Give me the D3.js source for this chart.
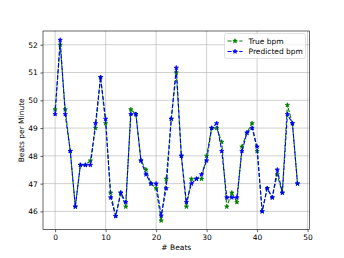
<!DOCTYPE html>
<html>
<head>
<meta charset="utf-8">
<script src="https://cdn.jsdelivr.net/npm/d3@7"></script>
<style>
  body { margin: 0; background: #fff; }
  text { font-family: "DejaVu Sans", sans-serif; fill: #000; }
</style>
</head>
<body>
<script>
var WIDTH = 344,
    HEIGHT = 258;

// values
var beats = d3.range(49);
var trueBpm = [49.67, 52.0, 49.67, 48.17, 46.17, 47.67, 47.67, 47.83, 49.0, 50.83,
               49.17, 46.67, 45.83, 46.67, 46.17, 49.67, 49.5, 47.83, 47.5, 47.0,
               46.83, 45.67, 47.17, 49.33, 51.0, 48.0, 46.17, 47.17, 47.17, 47.17,
               48.0, 49.0, 49.0, 48.5, 46.17, 46.67, 46.33, 48.33, 48.83, 49.17,
               48.17, 46.0, 46.83, 46.5, 47.33, 46.67, 49.83, 49.17, 47.0];
var predBpm = [49.5, 52.17, 49.5, 48.17, 46.17, 47.67, 47.67, 47.67, 49.17, 50.83,
               49.33, 46.5, 45.83, 46.67, 46.33, 49.5, 49.5, 47.83, 47.33, 47.0,
               47.0, 45.85, 46.83, 49.33, 51.17, 48.0, 46.33, 47.0, 47.17, 47.33,
               47.83, 49.0, 49.17, 48.17, 46.5, 46.5, 46.5, 48.17, 48.83, 49.0,
               48.33, 46.0, 46.83, 46.5, 47.5, 46.67, 49.5, 49.17, 47.0];
var xTicks = [0, 10, 20, 30, 40, 50],
    yTicks = [46, 47, 48, 49, 50, 51, 52];
var seriesNames = ["True bpm", "Predicted bpm"],
    seriesColors = ["#008000", "#0000ff"];

var margin = {left: 43, right: 34.4, top: 31, bottom: 28.4};
var x0 = margin.left, x1 = WIDTH - margin.right,
    y0 = margin.top, y1 = HEIGHT - margin.bottom;

// matplotlib style 5% margins
var yLo = d3.min(trueBpm.concat(predBpm)), yHi = d3.max(trueBpm.concat(predBpm));
var yPad = (yHi - yLo) * 0.05;
var x = d3.scaleLinear().domain([-2.4, 50.4]).range([x0, x1]);
var y = d3.scaleLinear().domain([yLo - yPad, yHi + yPad]).range([y1, y0]);

var svg = d3.select("body").append("svg")
    .attr("width", WIDTH)
    .attr("height", HEIGHT);

// grid
svg.append("g").selectAll("line").data(xTicks).enter().append("line")
  .attr("x1", function(d) { return x(d); })
  .attr("x2", function(d) { return x(d); })
  .attr("y1", y0).attr("y2", y1)
  .attr("stroke", "#b0b0b0").attr("stroke-width", 0.6);
svg.append("g").selectAll("line").data(yTicks).enter().append("line")
  .attr("y1", function(d) { return y(d); })
  .attr("y2", function(d) { return y(d); })
  .attr("x1", x0).attr("x2", x1)
  .attr("stroke", "#b0b0b0").attr("stroke-width", 0.6);

// axes
var xAxis = svg.append("g")
    .attr("transform", "translate(0," + y1 + ")")
    .call(d3.axisBottom(x).tickValues(xTicks).tickSize(2.6).tickPadding(2.6).tickSizeOuter(0));
var yAxis = svg.append("g")
    .attr("transform", "translate(" + x0 + ",0)")
    .call(d3.axisLeft(y).tickValues(yTicks).tickSize(2.6).tickPadding(2.6).tickSizeOuter(0));
[xAxis, yAxis].forEach(function(a) {
  a.select(".domain").remove();
  a.selectAll("line").attr("stroke-width", 0.6);
  a.selectAll("text").style("font-size", "7.5px").style("font-family", "DejaVu Sans");
});

// frame
svg.append("rect")
  .attr("x", x0).attr("y", y0)
  .attr("width", x1 - x0).attr("height", y1 - y0)
  .attr("fill", "none").attr("stroke", "#000").attr("stroke-width", 0.6);

// labels
svg.append("text")
  .attr("x", (x0 + x1) / 2).attr("y", 250)
  .attr("text-anchor", "middle")
  .style("font-size", "7.5px")
  .text("# Beats");
svg.append("text")
  .attr("transform", "translate(23.5," + ((y0 + y1) / 2) + ") rotate(-90)")
  .attr("text-anchor", "middle")
  .style("font-size", "7.5px")
  .text("Beats per Minute");

// series
var star = d3.symbol().type(d3.symbolStar).size(5.7);
var line = d3.line()
  .x(function(d) { return x(d[0]); })
  .y(function(d) { return y(d[1]); });

[trueBpm, predBpm].forEach(function(vals, i) {
  var pts = beats.map(function(b, j) { return [b, vals[j]]; });
  var g = svg.append("g");
  g.append("path")
    .attr("d", line(pts))
    .attr("fill", "none")
    .attr("stroke", seriesColors[i])
    .attr("stroke-width", 1.12)
    .attr("stroke-dasharray", "4.1,1.8");
  g.selectAll(".pt").data(pts).enter().append("path")
    .attr("class", "pt")
    .attr("d", star)
    .attr("transform", function(d) { return "translate(" + x(d[0]) + "," + y(d[1]) + ")"; })
    .attr("fill", seriesColors[i])
    .attr("stroke", seriesColors[i])
    .attr("stroke-width", 0.75);
});

// legend
var lg = svg.append("g").attr("transform", "translate(224.5,33.5)");
lg.append("rect")
  .attr("width", 81).attr("height", 25)
  .attr("rx", 2)
  .attr("fill", "#fff").attr("fill-opacity", 0.8)
  .attr("stroke", "#cccccc").attr("stroke-width", 0.6);
seriesNames.forEach(function(name, i) {
  var ly = 7.5 + i * 10.5;
  lg.append("line")
    .attr("x1", 3).attr("x2", 18)
    .attr("y1", ly).attr("y2", ly)
    .attr("stroke", seriesColors[i])
    .attr("stroke-width", 1.12)
    .attr("stroke-dasharray", "4.1,1.8");
  lg.append("path")
    .attr("d", star)
    .attr("transform", "translate(10.5," + ly + ")")
    .attr("fill", seriesColors[i])
    .attr("stroke", seriesColors[i])
    .attr("stroke-width", 0.75);
  lg.append("text")
    .attr("x", 24).attr("y", ly + 2.7)
    .style("font-size", "7.5px")
    .text(name);
});
</script>
</body>
</html>
